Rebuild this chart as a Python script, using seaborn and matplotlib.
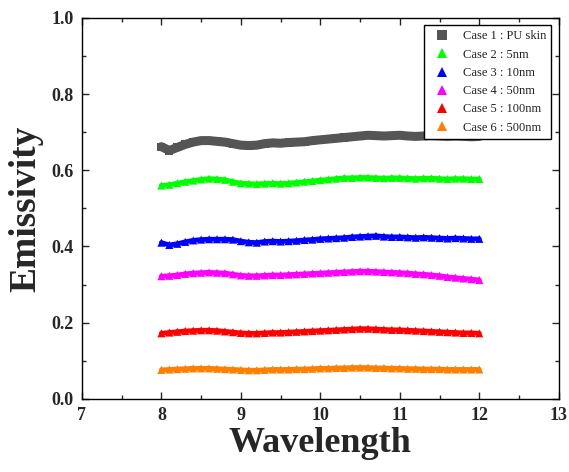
import numpy as np
import pandas as pd
import seaborn as sns
from matplotlib import pyplot as plt
from matplotlib.ticker import MultipleLocator

wavelength = [8.0, 8.1, 8.2, 8.3, 8.4, 8.5, 8.6, 8.7, 8.8, 8.9,
              9.0, 9.1, 9.2, 9.3, 9.4, 9.5, 9.6, 9.7, 9.8, 9.9,
              10.0, 10.1, 10.2, 10.3, 10.4, 10.5, 10.6, 10.7, 10.8, 10.9,
              11.0, 11.1, 11.2, 11.3, 11.4, 11.5, 11.6, 11.7, 11.8, 11.9, 12.0]

case1 = [0.662, 0.652, 0.660, 0.668, 0.674, 0.678, 0.678, 0.676, 0.674, 0.670,
         0.666, 0.665, 0.666, 0.670, 0.672, 0.671, 0.673, 0.674, 0.675, 0.678,
         0.680, 0.682, 0.684, 0.686, 0.688, 0.690, 0.692, 0.691, 0.690, 0.691,
         0.692, 0.690, 0.689, 0.690, 0.691, 0.690, 0.689, 0.690, 0.689, 0.688, 0.689]
case2 = [0.560, 0.562, 0.566, 0.570, 0.573, 0.576, 0.578, 0.577, 0.575, 0.570,
         0.566, 0.565, 0.564, 0.565, 0.566, 0.565, 0.566, 0.568, 0.570, 0.572,
         0.574, 0.576, 0.578, 0.580, 0.580, 0.581, 0.581, 0.580, 0.579, 0.580,
         0.580, 0.579, 0.578, 0.579, 0.579, 0.578, 0.577, 0.578, 0.578, 0.577, 0.577]
case3 = [0.410, 0.404, 0.407, 0.412, 0.416, 0.418, 0.419, 0.419, 0.419, 0.418,
         0.414, 0.411, 0.410, 0.413, 0.414, 0.413, 0.414, 0.415, 0.417, 0.418,
         0.420, 0.421, 0.422, 0.423, 0.425, 0.426, 0.427, 0.428, 0.426, 0.425,
         0.425, 0.424, 0.423, 0.424, 0.423, 0.422, 0.421, 0.422, 0.421, 0.420, 0.420]
case4 = [0.322, 0.323, 0.325, 0.328, 0.330, 0.331, 0.332, 0.331, 0.330, 0.327,
         0.324, 0.323, 0.323, 0.324, 0.325, 0.325, 0.326, 0.327, 0.328, 0.329,
         0.330, 0.331, 0.332, 0.333, 0.334, 0.335, 0.335, 0.334, 0.333, 0.332,
         0.331, 0.330, 0.328, 0.327, 0.325, 0.323, 0.320, 0.318, 0.316, 0.314, 0.312]
case5 = [0.172, 0.174, 0.176, 0.178, 0.179, 0.180, 0.180, 0.179, 0.177, 0.175,
         0.173, 0.172, 0.172, 0.173, 0.174, 0.174, 0.175, 0.176, 0.177, 0.178,
         0.179, 0.180, 0.181, 0.182, 0.183, 0.184, 0.184, 0.183, 0.182, 0.181,
         0.181, 0.180, 0.179, 0.178, 0.177, 0.176, 0.175, 0.174, 0.173, 0.173, 0.172]
case6 = [0.076, 0.077, 0.078, 0.079, 0.080, 0.080, 0.080, 0.079, 0.078, 0.077,
         0.076, 0.075, 0.075, 0.076, 0.077, 0.077, 0.077, 0.078, 0.078, 0.079,
         0.080, 0.080, 0.081, 0.081, 0.082, 0.082, 0.082, 0.081, 0.081, 0.080,
         0.080, 0.079, 0.079, 0.078, 0.078, 0.078, 0.077, 0.077, 0.077, 0.077, 0.077]

labels = ["Case 1 : PU skin", "Case 2 : 5nm", "Case 3 : 10nm",
          "Case 4 : 50nm", "Case 5 : 100nm", "Case 6 : 500nm"]
colors = ["#555555", "#00ff00", "#0000ff", "#ff00ff", "#ff0000", "#ff8000"]
markers = ["s", "^", "^", "^", "^", "^"]
widths = [6.5, 3.5, 3.5, 3.5, 3.5, 3.5]

frames = []
for lab, vals in zip(labels, [case1, case2, case3, case4, case5, case6]):
    frames.append(pd.DataFrame({"Wavelength": wavelength, "Emissivity": vals, "Case": lab}))
df = pd.concat(frames, ignore_index=True)

sns.set_style("ticks")
plt.rcParams["font.family"] = ["Liberation Serif", "DejaVu Serif"]

fig = plt.figure(figsize=(5.69, 4.72), dpi=100)
ax = fig.add_axes([0.144, 0.155, 0.838, 0.807])

palette = dict(zip(labels, colors))
# thick band under the markers, like the dense original sampling
for lab, col, lw in zip(labels, colors, widths):
    sns.lineplot(data=df[df["Case"] == lab], x="Wavelength", y="Emissivity",
                 color=col, linewidth=lw, legend=False, ax=ax)
sns.scatterplot(data=df, x="Wavelength", y="Emissivity", hue="Case", style="Case",
                palette=palette, markers=dict(zip(labels, markers)),
                s=34, linewidth=0, ax=ax)

ax.set_xlim(7, 13)
ax.set_ylim(0, 1.0)
ax.xaxis.set_major_locator(MultipleLocator(1))
ax.xaxis.set_minor_locator(MultipleLocator(0.5))
ax.yaxis.set_major_locator(MultipleLocator(0.2))
ax.yaxis.set_minor_locator(MultipleLocator(0.1))
ax.tick_params(which="both", direction="in", top=True, right=True, width=1)
ax.tick_params(which="major", length=5, labelsize=13, pad=6)
ax.tick_params(which="minor", length=3)
for lbl in ax.get_xticklabels() + ax.get_yticklabels():
    lbl.set_fontweight("bold")
for sp in ax.spines.values():
    sp.set_linewidth(1)
    sp.set_color("black")

ax.set_xlabel("Wavelength", fontsize=26, fontweight="bold", labelpad=2)
ax.set_ylabel("Emissivity", fontsize=27, fontweight="bold", labelpad=6)

leg = ax.legend(loc="upper right", fontsize=9, frameon=True, fancybox=False,
                edgecolor="black", framealpha=1, borderaxespad=0.6,
                handletextpad=0.7, labelspacing=0.5, markerscale=1.15)
leg.get_frame().set_linewidth(1)
for t in leg.get_texts():
    t.set_color("#222222")

fig.savefig("out.png", dpi=100)
